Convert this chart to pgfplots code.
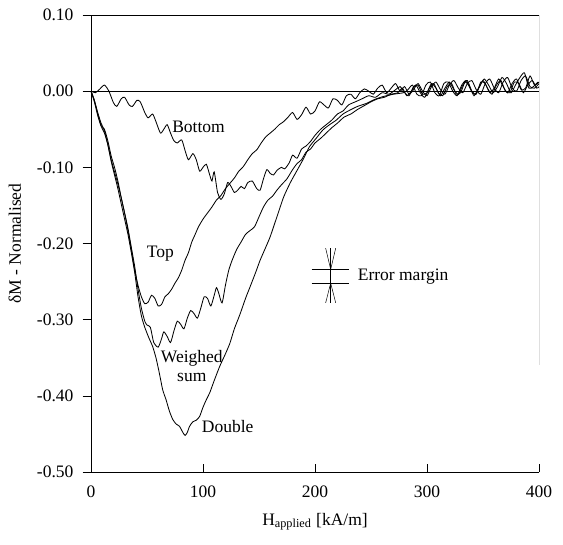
\documentclass[border=0pt]{standalone}
\usepackage{fontspec}
\setmainfont{Liberation Serif}
\usepackage{pgfplots}
\pgfplotsset{compat=1.18}

\begin{document}
\begin{tikzpicture}
\path[use as bounding box] (-54.6pt,-43.8pt) rectangle (283.2pt,283.2pt);
\begin{axis}[
    scale only axis,
    width=268.8pt,
    height=274.2pt,
    xmin=0, xmax=400,
    ymin=-0.5, ymax=0.1,
    axis x line*=bottom,
    axis y line*=left,
    axis line style={line width=0.5pt},
    xtick={0,100,200,300,400},
    xticklabels={0,100,200,300,400},
    ytick={-0.5,-0.4,-0.3,-0.2,-0.1,0,0.1},
    yticklabels={-0.50,-0.40,-0.30,-0.20,-0.10,0.00,0.10},
    xtick align=inside,
    ytick align=outside,
    major tick length=5pt,
    tick style={black, line width=0.4pt},
    tick label style={font=\fontsize{10.5}{12}\selectfont},
    xticklabel style={yshift=-5pt},
    yticklabel style={xshift=-2pt},
    every axis x label/.style={at={(axis description cs:0.5,-0.109)}, anchor=center},
    every axis y label/.style={at={(axis description cs:-0.17,0.5)}, anchor=center, rotate=90},
    label style={font=\fontsize{10.5}{12}\selectfont},
    xlabel={H\textsubscript{applied} [kA/m]},
    ylabel={δM - Normalised},
    cycle list={{black}},
    every axis plot post/.append style={black, no marks, line width=0.5pt, smooth, tension=0.4},
]
% zero line
\addplot coordinates {(0,0) (400,0)};

% Bottom
\addplot coordinates {
(0,0) (4,-0.002) (8,0.003) (12,0.008) (16,0.0) (20,-0.015) (23,-0.02) (27,-0.01)
(30,-0.008) (34,-0.018) (37,-0.02) (41,-0.012) (44,-0.014) (48,-0.028) (51,-0.035)
(55,-0.03) (58,-0.04) (62,-0.055) (65,-0.05) (68,-0.044) (71,-0.055) (74,-0.065)
(77,-0.068) (81,-0.064) (84,-0.078) (87,-0.09) (91,-0.082) (94,-0.09) (97,-0.105)
(100,-0.1) (103,-0.096) (106,-0.11) (108,-0.118) (110,-0.106) (113,-0.133) (116,-0.142)
(119,-0.135) (122,-0.12) (125,-0.125) (128,-0.133) (131,-0.13) (134,-0.125) (137,-0.128)
(140,-0.12) (144,-0.118) (148,-0.128) (151,-0.13) (154,-0.115) (157,-0.103) (160,-0.108)
(163,-0.11) (166,-0.104) (170,-0.1) (173,-0.102) (177,-0.094) (180,-0.084) (184,-0.088)
(188,-0.076) (192,-0.072) (196,-0.066) (200,-0.058) (205,-0.05) (210,-0.044) (215,-0.038)
(220,-0.03) (225,-0.026) (230,-0.018) (236,-0.014) (242,-0.01) (248,-0.006) (254,-0.008)
(260,-0.002) (266,-0.004) (272,0.002) (276,0.006) (280,-0.002) (284,-0.006) (288,0.006)
(292,0.008) (296,-0.004) (300,-0.002) (304,0.01) (308,0.004) (312,-0.006) (316,0.004)
(320,0.012) (324,0.002) (328,-0.004) (332,0.008) (336,0.014) (340,0.0) (344,-0.004)
(348,0.012) (352,0.01) (356,-0.002) (360,0.004) (364,0.016) (368,0.006) (372,-0.002)
(376,0.01) (380,0.016) (384,0.002) (388,0.004) (392,0.02) (396,0.008) (400,0.012)
};

% Top
\addplot coordinates {
(0,0) (3,-0.012) (6,-0.03) (9,-0.045) (12,-0.05) (15,-0.065) (18,-0.085) (21,-0.1)
(24,-0.118) (27,-0.14) (30,-0.16) (33,-0.183) (36,-0.208) (39,-0.235) (42,-0.255)
(45,-0.27) (48,-0.279) (51,-0.277) (54,-0.268) (57,-0.272) (60,-0.282) (63,-0.28)
(66,-0.27) (69,-0.266) (72,-0.26) (75,-0.252) (78,-0.245) (81,-0.235) (84,-0.222)
(87,-0.212) (90,-0.198) (93,-0.188) (96,-0.178) (100,-0.168) (104,-0.16) (108,-0.152)
(112,-0.143) (116,-0.137) (120,-0.128) (124,-0.121) (128,-0.114) (132,-0.105) (136,-0.099)
(140,-0.09) (144,-0.082) (148,-0.077) (152,-0.068) (156,-0.06) (160,-0.055) (164,-0.05)
(168,-0.044) (172,-0.04) (176,-0.034) (180,-0.028) (184,-0.037) (188,-0.031) (192,-0.021)
(196,-0.03) (200,-0.026) (204,-0.014) (208,-0.018) (212,-0.022) (216,-0.01) (220,-0.012)
(224,-0.018) (228,-0.006) (232,-0.004) (236,-0.01) (240,-0.002) (244,0.003) (248,0)
(252,-0.004) (256,0.004) (260,0.008) (264,-0.002) (268,0.004) (272,0.01) (276,0)
(280,0.006) (284,-0.004) (288,0.002) (292,0.01) (296,0) (300,-0.006) (304,0.006)
(308,0.012) (312,0.002) (316,-0.004) (320,0.008) (324,0.014) (328,0.004) (332,-0.002)
(336,0.01) (340,0.014) (344,0.002) (348,-0.004) (352,0.01) (356,0.016) (360,0.004)
(364,-0.002) (368,0.012) (372,0.018) (376,0.004) (380,0) (384,0.014) (388,0.02)
(392,0.006) (396,0.004) (400,0.01)
};

% Weighed sum
\addplot coordinates {
(0,0) (3,-0.014) (6,-0.032) (9,-0.046) (12,-0.055) (15,-0.07) (18,-0.09) (21,-0.106)
(24,-0.122) (27,-0.14) (30,-0.16) (33,-0.18) (36,-0.205) (39,-0.23) (42,-0.26)
(45,-0.285) (48,-0.302) (50,-0.307) (53,-0.31) (56,-0.33) (60,-0.336) (63,-0.325)
(65,-0.316) (68,-0.322) (71,-0.33) (74,-0.315) (77,-0.302) (80,-0.306) (83,-0.312)
(86,-0.298) (89,-0.288) (92,-0.292) (95,-0.298) (98,-0.285) (101,-0.27) (104,-0.272)
(107,-0.282) (110,-0.268) (112,-0.258) (114,-0.265) (117,-0.278) (120,-0.255) (123,-0.235)
(126,-0.222) (130,-0.208) (134,-0.198) (138,-0.188) (142,-0.183) (146,-0.178) (150,-0.165)
(154,-0.152) (158,-0.143) (162,-0.138) (166,-0.13) (170,-0.123) (175,-0.115) (180,-0.103)
(184,-0.095) (188,-0.09) (192,-0.08) (196,-0.076) (200,-0.068) (205,-0.062) (210,-0.055)
(215,-0.048) (220,-0.042) (226,-0.034) (232,-0.03) (238,-0.024) (244,-0.019) (250,-0.014)
(256,-0.01) (262,-0.008) (268,-0.004) (274,-0.002) (278,0.004) (282,-0.006) (286,0.0)
(290,0.008) (294,-0.002) (298,-0.008) (302,0.004) (306,0.01) (310,-0.002) (314,-0.006)
(318,0.006) (322,0.01) (326,-0.004) (330,-0.002) (334,0.012) (338,0.006) (342,-0.006)
(346,0.004) (350,0.014) (354,0.004) (358,-0.004) (362,0.008) (366,0.014) (370,0.0)
(374,-0.002) (378,0.012) (382,0.01) (386,-0.002) (390,0.008) (394,0.014) (398,0.004)
(400,0.006)
};

% Double
\addplot coordinates {
(0,0) (3,-0.012) (6,-0.028) (9,-0.042) (12,-0.052) (15,-0.07) (18,-0.092) (21,-0.11)
(24,-0.128) (27,-0.148) (30,-0.168) (33,-0.188) (36,-0.212) (39,-0.238) (42,-0.27)
(45,-0.295) (48,-0.31) (52,-0.325) (55,-0.335) (58,-0.35) (61,-0.37) (64,-0.392)
(67,-0.405) (70,-0.42) (73,-0.431) (76,-0.437) (79,-0.44) (82,-0.448) (84,-0.452)
(86,-0.448) (88,-0.44) (91,-0.434) (94,-0.432) (97,-0.427) (100,-0.415) (103,-0.405)
(106,-0.396) (110,-0.38) (115,-0.361) (120,-0.345) (124,-0.331) (128,-0.312) (133,-0.293)
(138,-0.272) (142,-0.257) (147,-0.238) (151,-0.222) (156,-0.205) (160,-0.191) (166,-0.165)
(172,-0.139) (178,-0.12) (184,-0.104) (190,-0.088) (195,-0.073) (201,-0.062) (207,-0.051)
(213,-0.044) (219,-0.038) (225,-0.03) (231,-0.025) (238,-0.02) (246,-0.016) (253,-0.011)
(261,-0.007) (270,-0.004) (279,-0.002) (283,0.002) (287,0.008) (291,-0.004) (295,-0.006)
(299,0.008) (303,0.012) (307,-0.002) (311,-0.006) (315,0.01) (319,0.012) (323,0.0)
(327,-0.006) (331,0.008) (335,0.014) (339,0.002) (343,-0.004) (347,0.006) (351,0.016)
(355,0.008) (359,-0.002) (363,0.006) (367,0.018) (371,0.01) (375,-0.002) (379,0.008)
(383,0.018) (387,0.024) (391,0.004) (395,0.006) (399,0.012)
};

% frame: top and partial right edge
\draw[line width=0.5pt] (axis cs:0,0.1) -- (axis cs:400,0.1) -- (axis cs:400,-0.36);

% curve labels
\node[font=\fontsize{10.5}{12}\selectfont] at (axis cs:96,-0.047) {Bottom};
\node[font=\fontsize{10.5}{12}\selectfont] at (axis cs:62,-0.213) {Top};
\node[font=\fontsize{10.5}{12}\selectfont, align=center, inner sep=0pt] at (axis cs:90,-0.361) {Weighed\\[-1pt]sum};
\node[font=\fontsize{10.5}{12}\selectfont] at (axis cs:122,-0.44) {Double};

% error margin symbol
\draw[line width=0.4pt] (axis cs:197,-0.234) -- (axis cs:230,-0.234);
\draw[line width=0.4pt] (axis cs:197,-0.252) -- (axis cs:230,-0.252);
\draw[line width=0.3pt] (axis cs:214,-0.206) -- (axis cs:214,-0.278);
\draw[line width=0.3pt] (axis cs:209.5,-0.206) -- (axis cs:214,-0.234) -- (axis cs:218.5,-0.206);
\draw[line width=0.3pt] (axis cs:209.5,-0.278) -- (axis cs:214,-0.252) -- (axis cs:218.5,-0.278);
\node[font=\fontsize{10.5}{12}\selectfont, anchor=west] at (axis cs:233,-0.243) {Error margin};
\end{axis}
\end{tikzpicture}
\end{document}
